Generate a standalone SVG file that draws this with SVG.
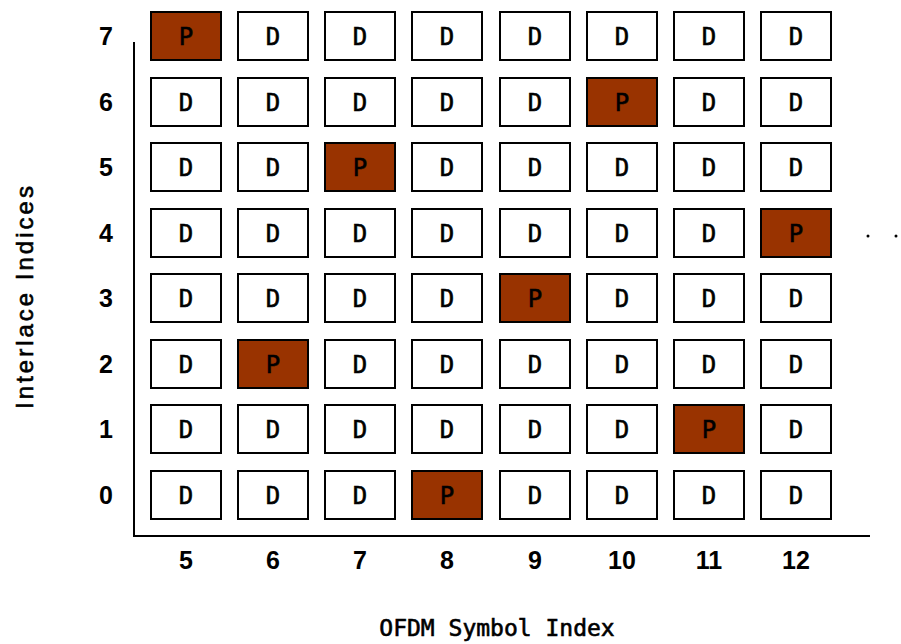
<svg xmlns="http://www.w3.org/2000/svg" width="901" height="644" viewBox="0 0 901 644">
<style>
.c rect{fill:#fff;stroke:#000;stroke-width:2}
.c.p rect{fill:#993300}
.c text{font-family:"DejaVu Sans Mono","Liberation Mono",monospace;font-size:24px;text-anchor:middle;fill:#000;stroke:#000;stroke-width:0.6}
.lab{font-family:"Liberation Sans",Arial,sans-serif;font-weight:bold;font-size:25px;text-anchor:middle;fill:#000}
.title{font-family:"DejaVu Sans Mono","Liberation Mono",monospace;font-size:23px;text-anchor:middle;fill:#000;stroke:#000;stroke-width:0.6}
.ytitle{font-family:"Liberation Sans",Arial,sans-serif;font-size:24px;letter-spacing:3px;text-anchor:middle;fill:#000;stroke:#000;stroke-width:0.6}
.ax{stroke:#000;stroke-width:2;fill:none}
</style>
<rect width="901" height="644" fill="#fff"/>
<g id="axes">
<path class="ax" d="M134,42 V536 H870"/>
</g>
<!-- row 7 -->
<g id="r7c5" class="c p"><rect x="151" y="12" width="70" height="48"/><text x="186" y="45">P</text></g>
<g id="r7c6" class="c"><rect x="238" y="12" width="70" height="48"/><text x="273" y="45">D</text></g>
<g id="r7c7" class="c"><rect x="325" y="12" width="70" height="48"/><text x="360" y="45">D</text></g>
<g id="r7c8" class="c"><rect x="412" y="12" width="70" height="48"/><text x="447" y="45">D</text></g>
<g id="r7c9" class="c"><rect x="500" y="12" width="70" height="48"/><text x="535" y="45">D</text></g>
<g id="r7c10" class="c"><rect x="587" y="12" width="70" height="48"/><text x="622" y="45">D</text></g>
<g id="r7c11" class="c"><rect x="674" y="12" width="70" height="48"/><text x="709" y="45">D</text></g>
<g id="r7c12" class="c"><rect x="761" y="12" width="70" height="48"/><text x="796" y="45">D</text></g>
<!-- row 6 -->
<g id="r6c5" class="c"><rect x="151" y="78" width="70" height="48"/><text x="186" y="111">D</text></g>
<g id="r6c6" class="c"><rect x="238" y="78" width="70" height="48"/><text x="273" y="111">D</text></g>
<g id="r6c7" class="c"><rect x="325" y="78" width="70" height="48"/><text x="360" y="111">D</text></g>
<g id="r6c8" class="c"><rect x="412" y="78" width="70" height="48"/><text x="447" y="111">D</text></g>
<g id="r6c9" class="c"><rect x="500" y="78" width="70" height="48"/><text x="535" y="111">D</text></g>
<g id="r6c10" class="c p"><rect x="587" y="78" width="70" height="48"/><text x="622" y="111">P</text></g>
<g id="r6c11" class="c"><rect x="674" y="78" width="70" height="48"/><text x="709" y="111">D</text></g>
<g id="r6c12" class="c"><rect x="761" y="78" width="70" height="48"/><text x="796" y="111">D</text></g>
<!-- row 5 -->
<g id="r5c5" class="c"><rect x="151" y="143" width="70" height="48"/><text x="186" y="176">D</text></g>
<g id="r5c6" class="c"><rect x="238" y="143" width="70" height="48"/><text x="273" y="176">D</text></g>
<g id="r5c7" class="c p"><rect x="325" y="143" width="70" height="48"/><text x="360" y="176">P</text></g>
<g id="r5c8" class="c"><rect x="412" y="143" width="70" height="48"/><text x="447" y="176">D</text></g>
<g id="r5c9" class="c"><rect x="500" y="143" width="70" height="48"/><text x="535" y="176">D</text></g>
<g id="r5c10" class="c"><rect x="587" y="143" width="70" height="48"/><text x="622" y="176">D</text></g>
<g id="r5c11" class="c"><rect x="674" y="143" width="70" height="48"/><text x="709" y="176">D</text></g>
<g id="r5c12" class="c"><rect x="761" y="143" width="70" height="48"/><text x="796" y="176">D</text></g>
<!-- row 4 -->
<g id="r4c5" class="c"><rect x="151" y="209" width="70" height="48"/><text x="186" y="242">D</text></g>
<g id="r4c6" class="c"><rect x="238" y="209" width="70" height="48"/><text x="273" y="242">D</text></g>
<g id="r4c7" class="c"><rect x="325" y="209" width="70" height="48"/><text x="360" y="242">D</text></g>
<g id="r4c8" class="c"><rect x="412" y="209" width="70" height="48"/><text x="447" y="242">D</text></g>
<g id="r4c9" class="c"><rect x="500" y="209" width="70" height="48"/><text x="535" y="242">D</text></g>
<g id="r4c10" class="c"><rect x="587" y="209" width="70" height="48"/><text x="622" y="242">D</text></g>
<g id="r4c11" class="c"><rect x="674" y="209" width="70" height="48"/><text x="709" y="242">D</text></g>
<g id="r4c12" class="c p"><rect x="761" y="209" width="70" height="48"/><text x="796" y="242">P</text></g>
<!-- row 3 -->
<g id="r3c5" class="c"><rect x="151" y="274" width="70" height="48"/><text x="186" y="307">D</text></g>
<g id="r3c6" class="c"><rect x="238" y="274" width="70" height="48"/><text x="273" y="307">D</text></g>
<g id="r3c7" class="c"><rect x="325" y="274" width="70" height="48"/><text x="360" y="307">D</text></g>
<g id="r3c8" class="c"><rect x="412" y="274" width="70" height="48"/><text x="447" y="307">D</text></g>
<g id="r3c9" class="c p"><rect x="500" y="274" width="70" height="48"/><text x="535" y="307">P</text></g>
<g id="r3c10" class="c"><rect x="587" y="274" width="70" height="48"/><text x="622" y="307">D</text></g>
<g id="r3c11" class="c"><rect x="674" y="274" width="70" height="48"/><text x="709" y="307">D</text></g>
<g id="r3c12" class="c"><rect x="761" y="274" width="70" height="48"/><text x="796" y="307">D</text></g>
<!-- row 2 -->
<g id="r2c5" class="c"><rect x="151" y="340" width="70" height="48"/><text x="186" y="373">D</text></g>
<g id="r2c6" class="c p"><rect x="238" y="340" width="70" height="48"/><text x="273" y="373">P</text></g>
<g id="r2c7" class="c"><rect x="325" y="340" width="70" height="48"/><text x="360" y="373">D</text></g>
<g id="r2c8" class="c"><rect x="412" y="340" width="70" height="48"/><text x="447" y="373">D</text></g>
<g id="r2c9" class="c"><rect x="500" y="340" width="70" height="48"/><text x="535" y="373">D</text></g>
<g id="r2c10" class="c"><rect x="587" y="340" width="70" height="48"/><text x="622" y="373">D</text></g>
<g id="r2c11" class="c"><rect x="674" y="340" width="70" height="48"/><text x="709" y="373">D</text></g>
<g id="r2c12" class="c"><rect x="761" y="340" width="70" height="48"/><text x="796" y="373">D</text></g>
<!-- row 1 -->
<g id="r1c5" class="c"><rect x="151" y="405" width="70" height="48"/><text x="186" y="438">D</text></g>
<g id="r1c6" class="c"><rect x="238" y="405" width="70" height="48"/><text x="273" y="438">D</text></g>
<g id="r1c7" class="c"><rect x="325" y="405" width="70" height="48"/><text x="360" y="438">D</text></g>
<g id="r1c8" class="c"><rect x="412" y="405" width="70" height="48"/><text x="447" y="438">D</text></g>
<g id="r1c9" class="c"><rect x="500" y="405" width="70" height="48"/><text x="535" y="438">D</text></g>
<g id="r1c10" class="c"><rect x="587" y="405" width="70" height="48"/><text x="622" y="438">D</text></g>
<g id="r1c11" class="c p"><rect x="674" y="405" width="70" height="48"/><text x="709" y="438">P</text></g>
<g id="r1c12" class="c"><rect x="761" y="405" width="70" height="48"/><text x="796" y="438">D</text></g>
<!-- row 0 -->
<g id="r0c5" class="c"><rect x="151" y="471" width="70" height="48"/><text x="186" y="504">D</text></g>
<g id="r0c6" class="c"><rect x="238" y="471" width="70" height="48"/><text x="273" y="504">D</text></g>
<g id="r0c7" class="c"><rect x="325" y="471" width="70" height="48"/><text x="360" y="504">D</text></g>
<g id="r0c8" class="c p"><rect x="412" y="471" width="70" height="48"/><text x="447" y="504">P</text></g>
<g id="r0c9" class="c"><rect x="500" y="471" width="70" height="48"/><text x="535" y="504">D</text></g>
<g id="r0c10" class="c"><rect x="587" y="471" width="70" height="48"/><text x="622" y="504">D</text></g>
<g id="r0c11" class="c"><rect x="674" y="471" width="70" height="48"/><text x="709" y="504">D</text></g>
<g id="r0c12" class="c"><rect x="761" y="471" width="70" height="48"/><text x="796" y="504">D</text></g>
<!-- row labels -->
<g id="rowlabels">
<text class="lab" x="106" y="45">7</text>
<text class="lab" x="106" y="111">6</text>
<text class="lab" x="106" y="176">5</text>
<text class="lab" x="106" y="242">4</text>
<text class="lab" x="106" y="307">3</text>
<text class="lab" x="106" y="373">2</text>
<text class="lab" x="106" y="438">1</text>
<text class="lab" x="106" y="504">0</text>
</g>
<g id="collabels">
<text class="lab" x="186" y="569">5</text>
<text class="lab" x="273" y="569">6</text>
<text class="lab" x="360" y="569">7</text>
<text class="lab" x="447" y="569">8</text>
<text class="lab" x="535" y="569">9</text>
<text class="lab" x="622" y="569">10</text>
<text class="lab" x="709" y="569">11</text>
<text class="lab" x="796" y="569">12</text>
</g>
<g id="ellipsis">
<circle cx="868" cy="236" r="1.5" fill="#000"/>
<circle cx="896" cy="236" r="1.5" fill="#000"/>
</g>
<text class="title" x="497" y="636">OFDM Symbol Index</text>
<text class="ytitle" transform="translate(33,296) rotate(-90)">Interlace Indices</text>
</svg>
